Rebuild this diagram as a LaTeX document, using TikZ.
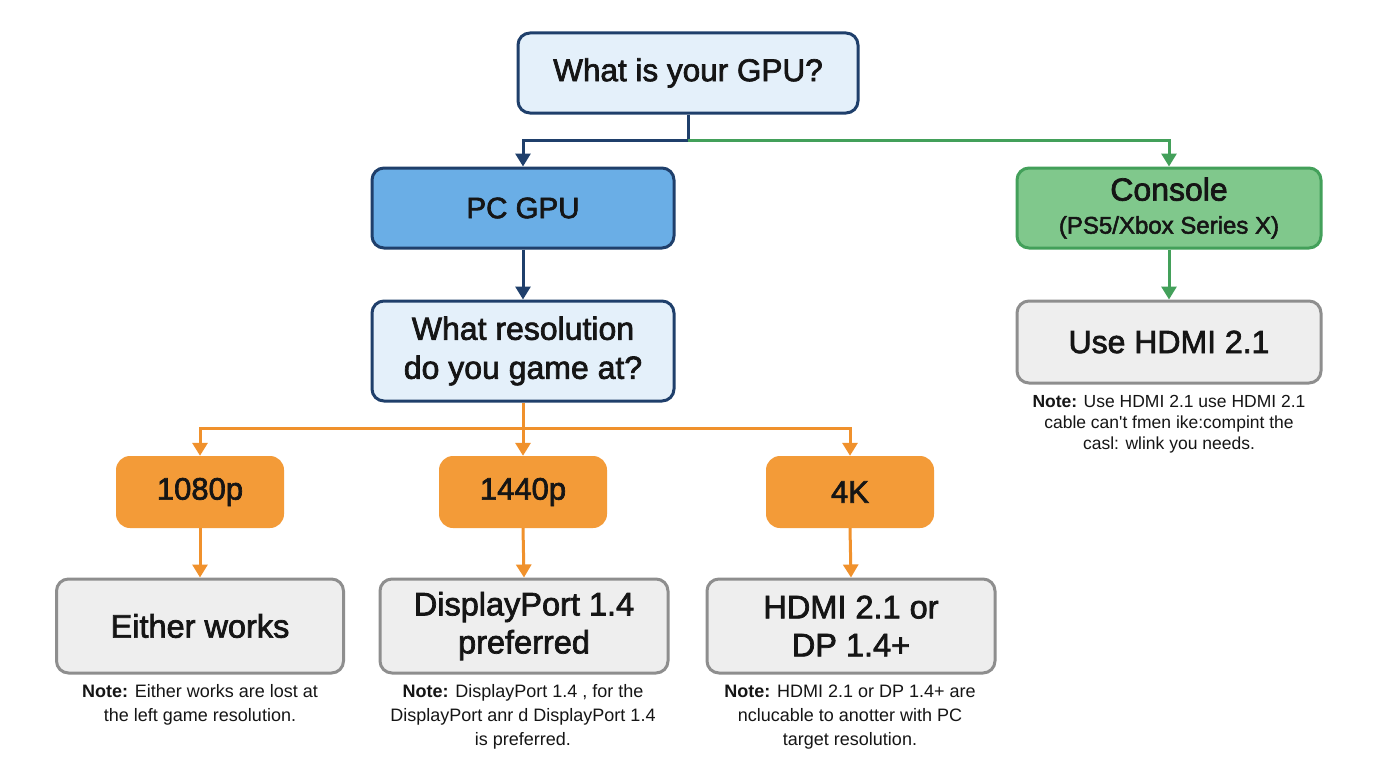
\documentclass[tikz,border=0pt]{standalone}
\usepackage{fontspec}
\setmainfont{Liberation Sans}
\newfontfamily\medfont{Liberation Sans}[FakeBold=2.2]
\newfontfamily\notefont{Liberation Sans}
\usetikzlibrary{arrows.meta}
\definecolor{navy}{HTML}{1F3F6B}
\definecolor{lightblue}{HTML}{E4F0FA}
\definecolor{pcblue}{HTML}{6AAEE6}
\definecolor{grn}{HTML}{43A05A}
\definecolor{grnfill}{HTML}{80C88C}
\definecolor{orng}{HTML}{F39B38}
\definecolor{orline}{HTML}{F0912C}
\definecolor{grayfill}{HTML}{EEEEEE}
\definecolor{grayline}{HTML}{8E8E8E}
\definecolor{txt}{HTML}{151515}
\tikzset{
  box/.style={rounded corners=12pt, line width=3pt, align=center, text=txt, inner sep=0pt},
  qbox/.style={box, draw=navy, fill=lightblue},
  pcbox/.style={box, draw=navy, fill=pcblue},
  conbox/.style={box, draw=grn, fill=grnfill},
  resbox/.style={box, draw=grayline, fill=grayfill},
  obox/.style={rounded corners=14pt, fill=orng, align=center, text=txt, inner sep=0pt,
     minimum width=168pt, minimum height=72pt, font=\medfont\fontsize{31}{36}\selectfont},
  note/.style={align=center, text=txt, inner sep=0pt, font=\notefont\fontsize{18}{24}\selectfont},
  arr/.style={line width=3pt, -{Triangle[width=15pt,length=13pt]}},
  ln/.style={line width=3pt},
}
\begin{document}
\begin{tikzpicture}[x=1pt,y=-1pt]
\useasboundingbox (0,0) rectangle (1376,768);
\fill[white] (0,0) rectangle (1376,768);

% nodes
\node[qbox, minimum width=340pt, minimum height=80pt, font=\medfont\fontsize{31.5}{38}\selectfont] (gpu) at (688,73) {What is your GPU?};
\node[pcbox, minimum width=302pt, minimum height=80pt, font=\medfont\fontsize{29.5}{36}\selectfont] (pc) at (523,208) {PC GPU};
\node[conbox, minimum width=304pt, minimum height=80pt, font=\medfont\fontsize{32}{36}\selectfont] (con) at (1169,208)
  {Console\\[-3pt]\fontsize{24}{30}\selectfont (PS5/Xbox Series X)};
\node[resbox, minimum width=304pt, minimum height=82pt, font=\medfont\fontsize{32}{38}\selectfont] (hdmi) at (1169,342) {Use HDMI 2.1};
\node[qbox, minimum width=302pt, minimum height=100pt, font=\medfont\fontsize{32}{39}\selectfont] (res) at (523,351) {What resolution\\do you game at?};

\node[obox] (p1080) at (200,492) {1080p};
\node[obox] (p1440) at (523,492) {1440p};
\node[obox] (p4k) at (850,492) {4K};

\node[resbox, minimum width=287pt, minimum height=94pt, font=\medfont\fontsize{32.5}{38}\selectfont] (either) at (200,626) {Either works};
\node[resbox, minimum width=288pt, minimum height=94pt, font=\medfont\fontsize{32.5}{38}\selectfont] (dp) at (524,626) {DisplayPort 1.4\\preferred};
\node[resbox, minimum width=288pt, minimum height=94pt, font=\medfont\fontsize{32.5}{38}\selectfont] (hd) at (851,626) {HDMI 2.1 or\\DP 1.4+};

% notes
\node[note, font=\notefont\fontsize{17.5}{21}\selectfont] (ncon) at (1169,424) {\textbf{Note:} Use HDMI 2.1 use HDMI 2.1\\cable can't fmen ike:compint the\\casl: wlink you needs.};
\node[note] (n1) at (200,705) {\textbf{Note:} Either works are lost at\\the left game resolution.};
\node[note] (n2) at (523,717) {\textbf{Note:} DisplayPort 1.4 , for the\\DisplayPort anr d DisplayPort 1.4\\is preferred.};
\node[note] (n3) at (850,717) {\textbf{Note:} HDMI 2.1 or DP 1.4+ are\\nclucable to anotter with PC\\target resolution.};

% connectors
\coordinate (j1) at (688,140);
\coordinate (j2) at (523,428);
\draw[ln, navy] (gpu.south) -- (j1);
\draw[arr, navy] (j1) -| (pc.north);
\draw[arr, grn] (j1) -| (con.north);
\draw[arr, navy] (pc.south) -- (res.north);
\draw[arr, grn] (con.south) -- (hdmi.north);

\draw[ln, orline] (res.south) -- (j2);
\draw[arr, orline] (j2) -| (p1080.north);
\draw[arr, orline] (j2) -- (p1440.north);
\draw[arr, orline] (j2) -| (p4k.north);
\draw[arr, orline] (p1080.south) -- (either.north);
\draw[arr, orline] (p1440.south) -- (dp.north);
\draw[arr, orline] (p4k.south) -- (hd.north);
\end{tikzpicture}
\end{document}
